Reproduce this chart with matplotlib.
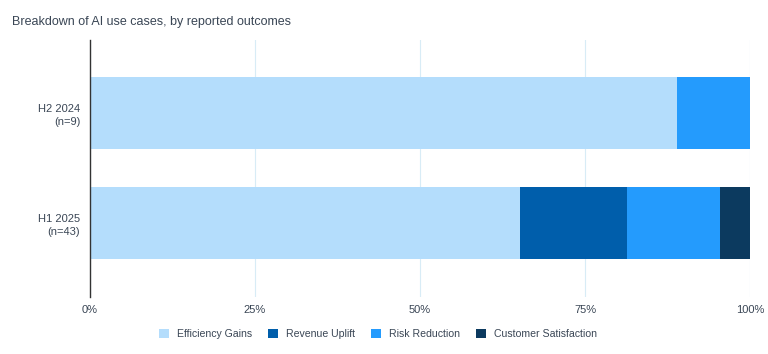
import numpy as np
import matplotlib.pyplot as plt

plt.rcParams['font.family'] = ['Liberation Sans', 'DejaVu Sans']

# Categories (bottom to top) and share of use cases per outcome
periods = ['H1 2025\n(n=43)', 'H2 2024\n(n=9)']
efficiency = [65.1, 88.9]
revenue = [16.3, 0.0]
risk = [14.0, 11.1]
customer = [4.6, 0.0]

series = [
    ('Efficiency Gains', efficiency, '#b4ddfc'),
    ('Revenue Uplift', revenue, '#005eab'),
    ('Risk Reduction', risk, '#249bfd'),
    ('Customer Satisfaction', customer, '#0c3a5f'),
]

text_color = '#3a4655'

fig = plt.figure(figsize=(7.68, 3.54), dpi=100)
ax = fig.add_axes([0.117, 0.161, 0.860, 0.726])

y = np.arange(len(periods))
left = np.zeros(len(periods))
for name, vals, color in series:
    vals = np.array(vals)
    ax.barh(y, vals, left=left, height=0.65, color=color, label=name, zorder=2)
    left += vals

ax.set_xlim(0, 100)
ax.set_ylim(-0.67, 1.66)
ax.set_xticks([0, 25, 50, 75, 100])
ax.set_xticklabels(['0%', '25%', '50%', '75%', '100%'])
ax.set_yticks(y)
ax.set_yticklabels(periods, ha='right', linespacing=1.4)
ax.tick_params(axis='both', length=0, labelsize=8, colors=text_color)
ax.tick_params(axis='x', pad=6)
ax.tick_params(axis='y', pad=7)
ax.grid(axis='x', color='#d8ecf6', linewidth=0.8, zorder=0)
for s in ['top', 'right', 'bottom']:
    ax.spines[s].set_visible(False)
ax.spines['left'].set_color('#333333')
ax.spines['left'].set_linewidth(1.0)
ax.spines['left'].set_zorder(3)

fig.text(0.015, 0.93, 'Breakdown of AI use cases, by reported outcomes',
         fontsize=9, color=text_color, ha='left', va='baseline')

fig.legend(loc='lower center', bbox_to_anchor=(0.492, 0.015), ncol=4, frameon=False,
           fontsize=7.6, handlelength=0.95, handleheight=0.95, columnspacing=1.5,
           handletextpad=0.76, labelcolor=text_color)

fig.savefig('out.png', dpi=100)
